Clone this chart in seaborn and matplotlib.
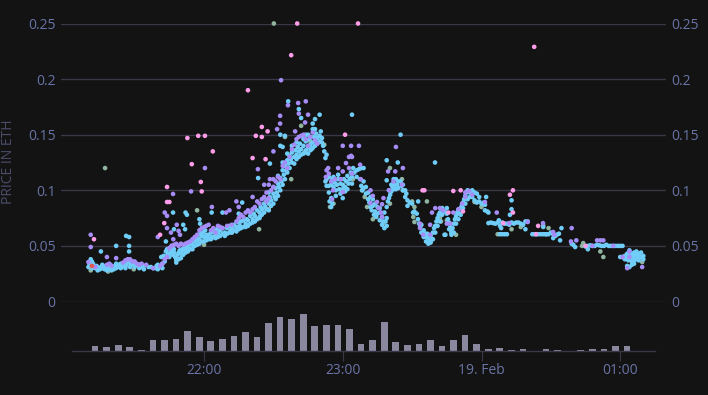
#!/usr/bin/env python3

import matplotlib

matplotlib.use("Agg")
import matplotlib.pyplot as plt
import pandas
import seaborn as sns

# All points are (minutes after 21:00, price in ETH)
green_points = [
    (17.2, .12), (90.2, .25), (97.7, .11), (57, .082), (60, .051), (18.5, .027), (29.6, .029), (11, .028),
    (83.8, .065), (63.8, .058), (102, .158), (140.4, .088), (156.4, .09), (151, .085), (140.4, .12),
    (145.6, .11), (146, .10), (114.5, .085), (116, .088), (124.4, .11), (128.3, .10), (129.5, .094),
    (130.5, .085), (137.5, .0705), (150.5, .076), (151, .0715), (162, .075), (165, .073), (162.5, .072),
    (177, .0895), (180, .085), (187, .0605), (193, .065), (197, .067), (206.7, .0685), (209, .066),
    (208, .0605), (224, .0525), (223.5, .05), (231.4, .045), (232.7, .04), (249.5, .0355), (106, .144),
    (112, .141), (95, .148), (88, .083), (72, .062), (65, .058), (48, .037), (133, .074), (158, .054),
    (169, .06), (150, .09),
]
blue_points = [
    # slow start
    (10, .031), (10.5, .033), (11, .038), (11.5, .030), (12, .031), (13, .030), (13.5, .032), (14, .031),
    (15, .029), (15.5, .031), (16, .030), (17, .029), (17.5, .032), (18, .031), (19, .030), (19.5, .033),
    (20, .031), (21, .029), (21.5, .032), (22, .030), (23, .033), (23.5, .031), (24, .034), (25, .032),
    (26, .034), (26.5, .033), (27, .036), (28, .035), (28.5, .033), (29, .036), (30, .034), (31, .033),
    (32, .033), (33, .031), (34, .032), (36, .031), (37, .031), (38, .030), (39, .030), (39.5, .032),
    (40, .033), (41, .031), (42, .034), (43, .036),
    (12, .034), (14, .028), (16, .033), (18, .028), (20, .028), (22, .034), (24, .030), (26, .030), (28, .031),
    (30, .031), (32, .030), (34, .029), (40, .029), (42, .030),
    (26.3, .059), (27.6, .058), (27.6, .050), (27.6, .045), (22, .050), (15.4, .045), (11.5, .036),
    # first rise
    (41.5, .040), (42.5, .041), (43.5, .045), (44, .047), (44.5, .043), (45, .048), (45.5, .044), (46, .046),
    (46.5, .042), (47, .047), (47.5, .040), (48, .038), (48.5, .042), (49, .044), (49.5, .046), (50, .043),
    (50.5, .047), (51, .046), (51.5, .049), (52, .047), (52.5, .051), (53, .050), (53.5, .048), (54, .052),
    (54.5, .053), (55, .051), (55.5, .056), (56, .054), (56.5, .058), (57, .055), (57.5, .060), (58, .056),
    (58.5, .061), (59, .059), (59.5, .062), (60, .058), (60.5, .064), (61, .060), (61.5, .057),
    (44, .041), (45, .040), (46, .050), (47, .044), (48, .035), (49, .038), (50, .039), (51, .042), (52, .044),
    (53, .045), (54, .047), (55, .047), (56, .050), (57, .051), (58, .052), (59, .054), (60, .054), (61, .055),
    (46.6, .080), (52, .080), (52.6, .078), (51, .069), (51.8, .065), (47, .065), (43.5, .054), (58, .074),
    (58.3, .070),
    # climb to the peak
    (62, .060), (63, .062), (63.5, .058), (64, .063), (65, .061), (65.5, .065), (66, .062), (67, .064),
    (68, .066), (69, .062), (70, .066), (71, .068), (71.5, .064), (72, .067), (73, .069), (74, .067),
    (75, .071), (75.5, .068), (76, .072), (77, .073), (78, .070), (78.5, .074), (79, .073), (80, .077),
    (81, .074), (81.5, .079), (82, .077), (83, .082), (84, .080), (84.5, .085), (85, .083), (86, .088),
    (86.5, .085), (87, .091), (88, .088), (88.5, .094), (89, .091), (90, .097), (90.5, .094), (91, .102),
    (91.5, .098), (92, .106), (92.5, .103), (93, .111), (93.5, .108), (94, .118), (94.5, .114), (95, .122),
    (95.5, .118), (96, .127), (96.5, .124), (97, .131), (97.5, .128), (98, .134), (99, .130), (99.5, .136),
    (100, .132), (100.5, .139), (101, .135), (101.5, .142), (102, .137), (103, .140), (103.5, .134),
    (104, .144), (105, .139), (105.5, .146), (106, .141), (107, .143), (107.5, .148), (108, .145),
    (108.5, .151), (109, .147), (110, .149), (110.5, .153), (111, .147), (111.5, .140), (112, .135),
    (112.5, .129), (113, .132), (106.5, .137), (108, .155), (104, .150),
    (62, .056), (63, .056), (64, .058), (65, .057), (66, .058), (67, .059), (68, .061), (69, .059), (70, .061),
    (71, .062), (72, .062), (73, .064), (74, .063), (75, .065), (76, .066), (77, .067), (78, .067), (79, .068),
    (80, .070), (81, .071), (82, .072), (83, .074), (84, .075), (85, .078), (86, .080), (87, .083), (88, .082),
    (89, .086), (90, .088), (91, .092), (92, .095), (93, .100), (94, .105), (95, .110), (96, .116), (97, .120),
    (98, .125), (99, .124), (100, .128), (101, .130), (102, .132), (103, .133), (104, .136), (105, .133),
    (106, .136), (107, .138), (108, .140), (109, .142), (110, .144), (111, .143), (98, .140), (100, .143),
    (103, .146), (105, .150), (107, .155), (96, .133), (94, .125), (92, .113), (90, .103), (88, .098),
    (96.4, .180), (101, .173), (102, .165), (108, .164), (110, .168), (107, .160), (93, .150), (95, .149),
    (93, .140), (94, .139), (88.5, .124), (83.4, .111), (76.5, .089), (75, .079), (68, .080), (63.3, .080),
    (84, .076),
    # drop after the peak
    (114, .112), (114, .104), (114, .098), (114.3, .090), (112.5, .108), (113, .110), (115, .105),
    (115.5, .110), (116, .103), (116.5, .107), (117, .100), (117.5, .105), (118, .110), (118.5, .101),
    (119, .106), (119.5, .100), (120, .105), (120.5, .110), (121, .103), (121.5, .108), (122, .113),
    (122.5, .106), (123, .110), (123.5, .116), (124, .112), (124.5, .120), (125, .116), (126, .118),
    (127, .119), (128, .120), (115, .093), (115.5, .088), (115, .085), (120, .093), (124, .168), (129, .12),
    (116, .112), (118, .114), (120, .101), (122, .101), (124, .106), (126, .112), (119, .097), (121, .099),
    (117, .095), (113, .104),
    # second wave
    (127.5, .110), (128, .104), (128.5, .100), (129, .102), (130, .097), (131, .092), (131.5, .089),
    (132, .085), (132.5, .082), (133, .086), (133.5, .078), (134, .081), (134.5, .076), (135, .079),
    (136, .084), (136, .073), (137, .076), (137.5, .072), (138, .080), (138.5, .072), (139, .075),
    (139, .085), (139.5, .090), (140, .093), (140.5, .096), (141, .099), (141.5, .103), (142, .101),
    (142.5, .105), (143, .101), (143.5, .105), (144, .102), (145, .108), (145.5, .104), (146, .105),
    (147, .094), (147.5, .097), (148, .091), (149, .089), (150, .088),
    (129, .108), (130, .103), (131, .098), (132, .094), (133, .092), (134, .088), (135, .085), (136, .080),
    (137, .069), (138, .066), (139, .068), (140, .10), (141, .105), (143, .11), (144, .108), (146, .1),
    (147, .1), (148, .086),
    (145, .15), (139, .127), (143.8, .125), (159.9, .125), (152.6, .09), (164.4, .06), (139, .109), (142, .11),
    # third wave
    (150.4, .080), (151, .081), (152, .079), (152.5, .074), (153, .070), (153.5, .067), (154, .069),
    (155, .064), (155.5, .061), (156, .058), (156.5, .061), (157, .057), (157.5, .055), (158, .059),
    (159, .062), (159.5, .066), (160, .068), (160.5, .072), (161, .075), (161.5, .078), (162, .080),
    (163, .078), (164, .081), (165, .079), (165.5, .074), (166, .071), (166.5, .067), (167, .063),
    (167.5, .066), (168, .070), (168.5, .074), (169, .077), (169.5, .080), (170, .082), (170.5, .079),
    (171, .084), (171.5, .086), (172, .089), (172.5, .092), (173, .095), (173.5, .098), (174, .100),
    (175, .098), (176, .100), (177, .098), (178, .097), (177, .091), (178, .089), (179, .090), (180, .088),
    (181, .089), (181.5, .087), (182, .094), (181.5, .082), (182.5, .081), (183, .080), (164, .06), (167, .0615),
    (154, .062), (155, .058), (156, .054), (157, .052), (158, .053), (159, .056), (160, .062), (161, .068),
    (162, .072), (163, .084), (165, .084), (166, .065), (167, .060), (168, .062), (169, .070), (170, .074),
    (171, .078), (172, .084), (173, .088), (174, .092), (175, .094), (176, .094), (179, .094),
    # flat runs
    (183, .0705), (184, .071), (185, .0705), (186, .070), (187, .071), (187.5, .073), (188, .068),
    (188.5, .066), (189, .071), (190, .070), (191, .070), (192, .069), (193, .071), (194, .070), (195, .071),
    (196, .071), (197, .070), (198, .069), (199, .072), (200, .072), (188, .0605), (189, .0605),
    (190, .0605), (191, .0605), (199, .065), (193, .091), (192.3, .078), (193, .083),
    (202, .0605), (203, .0605), (204, .0605), (205, .0605), (206, .0605), (207, .0605), (208, .0605),
    (209, .0605), (210, .062), (211, .0605), (212, .059), (213, .0605), (211, .057), (213.5, .061),
    (206.7, .067), (214, .055), (214.6, .066),
    (219, .052), (219.7, .051), (220.5, .049), (225, .0495), (226, .050), (227, .0505), (228, .050),
    (229, .050), (230, .051), (231, .0505), (232, .050), (233, .050), (234, .051), (235, .050), (236, .050),
    (237, .050), (238, .050), (239, .050), (240, .050), (241, .050), (226, .047),
    # last cluster
    (240, .040), (241, .040), (242, .041), (242, .038), (243, .043), (243, .040), (243.5, .037), (244, .041),
    (244, .046), (245, .043), (245, .039), (245, .036), (246, .044), (246, .041), (246, .037), (246, .034),
    (247, .045), (247, .042), (247, .038), (248, .043), (248, .040), (248, .037), (249, .044), (249, .040),
    (243, .032), (244, .031), (245, .033), (245.5, .035), (250, .038), (250, .041),
]
purple_points = [
    (93.3, .199), (96.3, .1765), (92.9, .167), (92.9, .16), (91.6, .155), (60.4, .12), (90, .135), (83.3, .119),
    (88.5, .11), (46.6, .0967), (54.4, .099), (63.4, .085), (104, .18), (100.7, .1785), (101, .169), (105, .168),
    (103.7, .161), (99.4, .153), (81, .094), (74, .090), (71, .082), (75, .085), (69.5, .080),
    (11, .06), (11, .049), (18, .04), (22, .039), (10, .0355), (43, .08), (44, .077), (48.2, .069), (44, .066),
    (45.7, .062), (49, .0635), (49.6, .06), (46.7, .056), (40, .058),
    # along the ridge
    (13, .031), (18, .033), (19, .034), (20, .032), (25, .035), (26, .037), (27, .038), (28, .038), (29, .036),
    (30, .036), (31, .034), (32, .033), (33, .034), (35, .033), (38, .030), (41, .032), (42, .034), (43, .038),
    (44, .040), (45, .048), (46, .05), (47, .051), (48, .052), (49, .05), (50, .052), (51, .051), (52, .052),
    (53, .053), (54, .054), (55, .056), (56, .058), (57, .060), (58, .064), (59, .066), (60, .067), (61, .068),
    (62, .069), (63, .064), (64, .066), (65, .062), (66, .068), (67, .067), (68, .066), (70, .068), (72, .069),
    (74, .072), (75, .075), (76, .078), (77, .076), (78, .080), (79, .082), (80, .080), (81, .083), (82, .085),
    (83, .090), (84, .088), (85, .092), (86, .094), (87, .090), (88, .093), (89, .10), (90, .103), (91, .108),
    (92, .112), (93, .110), (90, .11), (88, .105), (87, .098), (86, .105), (94, .122), (95, .125), (96, .12),
    (97, .13), (98, .137), (99, .141), (100, .146), (101, .148), (102, .149), (103, .150), (104, .146),
    (105, .14), (106, .148), (107, .152), (108, .145), (109, .142), (113, .118), (114, .115), (115, .108),
    # second and third waves
    (120, .14), (123.6, .14), (127, .14), (123.6, .131), (122.7, .13), (124, .13), (121.4, .1245), (127.5, .123),
    (113.7, .12), (118, .12), (120, .117), (122.7, .12), (124, .115), (112.7, .112), (116.7, .11), (119.2, .11),
    (115.8, .1), (120, .0985), (115.4, .092), (127.8, .11), (132, .1), (133, .095), (134.8, .0895), (132, .0885),
    (137, .0875), (137.6, .093), (135.5, .084), (136.6, .08), (137, .076), (141.9, .108), (140, .10), (139.6, .117),
    (142.7, .117), (146, .12), (143, .139), (145.6, .105), (153.4, .07), (157.8, .069), (153.4, .066), (154.8, .06),
    (157.8, .06), (158.6, .08), (160, .084), (162, .084), (163.4, .082), (165, .07), (166.4, .07), (167.8, .08),
    (170, .083), (171.6, .088), (173, .094), (173, .098), (174.6, .0994), (176, .096), (181.5, .0895),
    # flat runs
    (186.6, .08), (192, .0705), (200, .0715), (206.6, .0705), (211, .0625), (211.5, .06), (219, .066),
    (218.7, .054), (221, .055), (230, .055), (231.4, .055), (232.7, .055), (228, .05), (237, .05),
    (244, .045), (241, .04), (244, .04), (249.5, .031), (243, .030),
]
pink_points = [
    (100.3, .25), (126.6, .25), (97.7, .2215), (79, .19), (202.8, .229), (44, .103), (44, .0895), (45, .0895),
    (52.8, .147), (57.5, .149), (60.4, .149), (63.8, .135), (54.7, .1235), (58.6, .1075), (59, .099),
    (85, .157), (87.5, .153), (82.4, .149), (85, .148), (81, .129), (86.6, .128), (12.4, .056), (42.8, .0705),
    (41, .06), (121, .15), (154.5, .10), (155.3, .10), (165.7, .08), (167.8, .0994), (171, .10), (193.6, .10),
    (192.3, .096), (193.6, .080), (189.4, .0705), (204.5, .068), (203.6, .0605), (225, .05), (172, .081),
]
red_points = [(11.5, .032)]

# One bar every five minutes, the height is read in pixels from the picture
volume_minutes = [12.9 + 5 * k for k in range(47)]
volume_heights = [
    5, 3.7, 6, 3.7, 1.3, 11.3, 11.3, 12.3, 20, 13.7, 10.3, 12.3, 14.7, 19, 13.7, 27.7, 34.3, 32.3, 36.7, 24.7,
    25.7, 25.7, 22.3, 6.7, 11.3, 29, 9, 5.7, 6.7, 11.3, 4.7, 11.3, 15.7, 6.7, 2.3, 3.3, 1.3, 2.3, 0, 2.3, 1.3,
    0, 1.3, 2.3, 2.3, 4.7, 4.7,
]

price_ticks = [0, 0.05, 0.1, 0.15, 0.2, 0.25]
price_labels = ["0", "0.05", "0.1", "0.15", "0.2", "0.25"]
time_ticks = [60, 120, 180, 240]
time_labels = ["22:00", "23:00", "19. Feb", "01:00"]

colors = {
    "green": "#8fb5a0",
    "blue": "#6fcdf8",
    "purple": "#a68cf7",
    "pink": "#fd9ce8",
    "red": "#e2574f",
}

background = "#131313"
grid_color = "#3a3848"
label_color = "#6a74a6"
width, height = 708, 395


def make_frame():
    """
    One table for the scatter, rows in the order they are stacked
    """
    frames = []
    for name, points in [
        ("green", green_points),
        ("blue", blue_points),
        ("purple", purple_points),
        ("pink", pink_points),
        ("red", red_points),
    ]:
        frame = pandas.DataFrame(points, columns=["minute", "price"])
        frame["series"] = name
        frames.append(frame)
    return pandas.concat(frames, ignore_index=True)


def box(left, top, right, bottom):
    """
    Axes rectangle from pixel edges
    """
    return [left / width, 1 - bottom / height, (right - left) / width, (bottom - top) / height]


def main():
    sns.set_theme(style="dark", rc={"figure.facecolor": background, "axes.facecolor": background})
    plt.rcParams["font.family"] = ["Open Sans", "DejaVu Sans"]

    fig = plt.figure(figsize=(width / 100, height / 100), dpi=100)

    # Price scatter
    ax = fig.add_axes(box(61, 23.5, 666, 301.5))
    sns.scatterplot(
        data=make_frame(),
        x="minute",
        y="price",
        hue="series",
        palette=colors,
        s=11,
        linewidth=0,
        legend=False,
        clip_on=False,
        zorder=3,
        ax=ax,
    )
    ax.set_xlim(-1.86, 259.8)
    ax.set_ylim(0, 0.25)
    ax.set_xticks([])
    ax.set_yticks(price_ticks)
    ax.set_yticklabels(price_labels)
    ax.set_xlabel("")
    ax.set_ylabel("")
    ax.grid(axis="y", color=grid_color, linewidth=1.0)
    ax.tick_params(
        axis="y", left=False, right=False, length=0, labelright=True, labelcolor=label_color, labelsize=10, pad=4
    )
    sns.despine(ax=ax, left=True, bottom=True)
    fig.text(
        9 / width, 1 - 162 / height, "PRICE IN ETH", rotation=90, color="#4c4d6b", fontsize=10,
        ha="center", va="center",
    )

    # Volume bars under it
    vol = fig.add_axes(box(72, 311, 655, 351))
    sns.barplot(
        x=volume_minutes, y=volume_heights, native_scale=True, color="#8a889f", saturation=1, width=0.58,
        linewidth=0, ax=vol,
    )
    vol.set_xlim(2.9, 255)
    vol.set_ylim(0, 40)
    vol.set_yticks([])
    vol.set_xticks(time_ticks)
    vol.set_xticklabels(time_labels)
    vol.tick_params(axis="x", bottom=True, length=7.5, width=0.8, color=grid_color, labelcolor=label_color,
                    labelsize=10, pad=1)
    sns.despine(ax=vol, left=True)
    vol.spines["bottom"].set_color(grid_color)
    vol.spines["bottom"].set_linewidth(1.0)
    vol.patch.set_alpha(0)

    fig.savefig("out.png", dpi=100, facecolor=background)


if __name__ == "__main__":
    main()
